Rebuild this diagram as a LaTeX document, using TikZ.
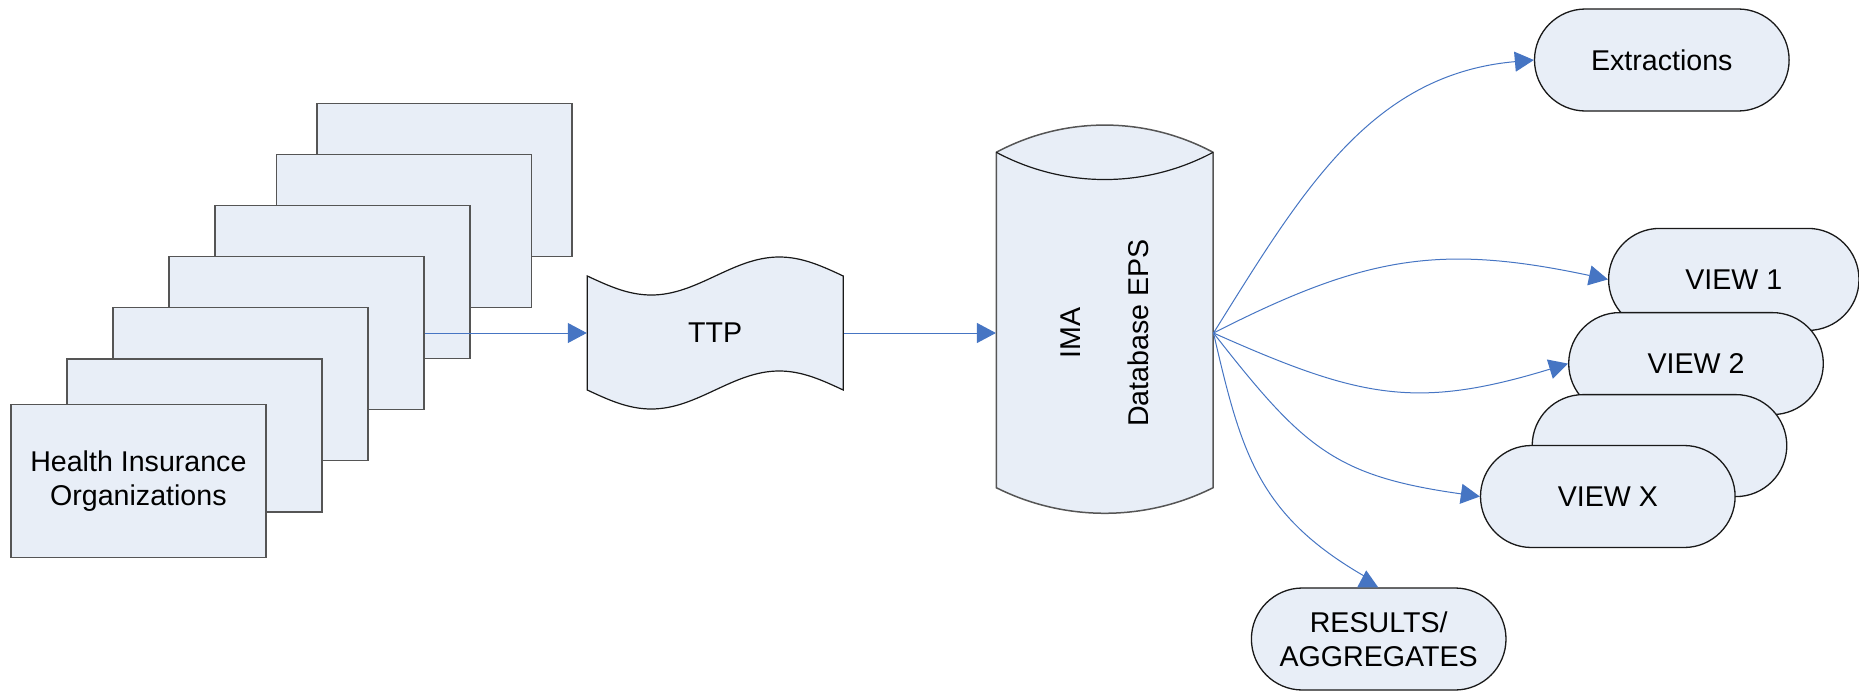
\documentclass[tikz,border=0pt]{standalone}
\usepackage{fontspec}
\setmainfont{Liberation Sans}
\usetikzlibrary{arrows.meta,calc}

\definecolor{boxfill}{RGB}{232,238,247}
\definecolor{boxline}{RGB}{85,85,85}
\definecolor{pillline}{RGB}{25,25,25}
\definecolor{flowblue}{RGB}{70,117,195}

\begin{document}
\begin{tikzpicture}[x=0.5pt,y=-0.5pt,
  every node/.style={font=\fontsize{14.3pt}{16.8pt}\selectfont, inner sep=0pt, align=center},
  page/.style={draw=boxline, fill=boxfill, line width=0.75pt,
    minimum width=127.5pt, minimum height=76.5pt},
  pill/.style={draw=pillline, fill=boxfill, line width=0.65pt,
    rounded corners=25.5pt, minimum width=127.3pt, minimum height=51pt},
  flowline/.style={draw=flowblue, line width=0.5pt},
  flow/.style={flowline, -{Triangle[length=9.5pt,width=10pt,fill=flowblue]}}
]
\useasboundingbox (0,0) rectangle (1859,691);

% stack of insurer sheets, back to front
\node[page] (r1) at (444.5,180.2) {};
\node[page] (r2) at (403.8,231.2) {};
\node[page] (r3) at (342.4,282.2) {};
\node[page] (r4) at (296.4,333) {};
\node[page] (r5) at (240.6,384.2) {};
\node[page] (r6) at (194.6,435.4) {};
\node[page] (r7) at (138.4,481.2) {Health Insurance\\Organizations};

% TTP punched tape
\draw[draw=pillline, fill=boxfill, line width=0.6pt]
  (587.3,276) sin (651.3,295) cos (715.3,276) sin (779.3,257) cos (843.2,276)
  -- (843.2,390) sin (779.2,371) cos (715.2,390) sin (651.2,409) cos (587.3,390) -- cycle;
\node[minimum width=128pt, minimum height=57pt] (ttp) at (715.2,333) {TTP};

% database cylinder
\draw[draw=boxline, fill=boxfill, line width=0.75pt]
  (996.3,152.3) .. controls (1064.3,116) and (1145.1,116) .. (1213.1,152.3)
  -- (1213.1,487.7) .. controls (1145.1,521.8) and (1064.3,521.8) .. (996.3,487.7) -- cycle;
\draw[draw=pillline, line width=0.6pt]
  (996.3,152.3) .. controls (1064.3,188.6) and (1145.1,188.6) .. (1213.1,152.3);
\node[minimum width=108.4pt, minimum height=180.4pt] (db) at (1104.7,333) {};
\node[rotate=90] (dbtext) at (db.center) {IMA\\[16.8pt]Database EPS};

% output shapes
\node[pill] (ext) at (1661.8,60) {Extractions};
\node[pill, minimum width=125.2pt] (v1) at (1733.8,279.4) {VIEW 1};
\node[pill] (v2) at (1696,363.6) {VIEW 2};
\node[pill] (vmid) at (1659.5,445.6) {};
\node[pill] (vx) at (1607.8,496.5) {VIEW X};
\node[pill] (res) at (1378.7,639) {RESULTS/\\AGGREGATES};

% connectors
\draw[flow] (r4.east) -- (ttp.west);
\draw[flow] (ttp.east) -- (db.west);
\draw[flow] (db.east) to[out=58,in=185] (ext.west);
\draw[flow] (db.east) to[out=27,in=168,looseness=1.1] (v1.west);
\draw[flow] (db.east) to[out=-24,in=197,looseness=1.15] (v2.west);
\draw[flow] (db.east) to[out=-52,in=172,looseness=1.2] (vx.west);

\coordinate (resend) at ($(res.north)+(-14,-11)$);
\draw[flowline] (db.east) to[out=-77,in=150,looseness=1.1] (resend);
\fill[flowblue] ($(res.north)+(-21.5,0)$) -- ($(res.north)+(-0.5,0)$)
  -- ($(res.north)+(-12.5,-17)$) -- cycle;
\end{tikzpicture}
\end{document}
